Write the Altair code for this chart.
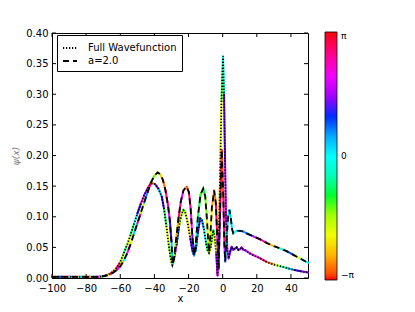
import altair as alt
import numpy as np
import pandas as pd

PI = np.pi

# ---- "Full Wavefunction" (dotted) : x, |psi|, phase (in units of pi)
full_x = [-100, -98, -96, -94, -92, -90, -88, -86, -84, -82, -80, -78, -76, -74, -72,
          -70, -68, -66, -64, -62, -60, -58, -56, -54, -52, -50, -48, -46, -44, -42.5, -41,
          -39.5, -37.5, -35.7, -34.3, -33, -31.5, -30.3, -29.5,
          -28.5, -27, -25.5, -24, -23, -22, -20.5, -19, -17.8, -16.8,
          -15.8, -14.5, -13.2, -12.2, -11, -9.8, -8.8, -8,
          -7, -6, -5.5, -4.8, -3.8, -3.0, -2.2, -1.4, -0.7, 0.2, 0.8, 1.4, 2.0, 2.8,
          3.5, 4.3, 5.3, 6.2, 7.2, 8.2, 9.2, 10.2, 11.1, 12.1, 13.5,
          16, 19, 22, 26, 30, 34, 38, 42, 46, 50]
full_y = [0.002, 0.002, 0.002, 0.002, 0.002, 0.002, 0.002, 0.002, 0.002, 0.002, 0.002, 0.002, 0.002, 0.002, 0.002,
          0.003, 0.005, 0.007, 0.011, 0.017, 0.026, 0.040, 0.054, 0.070, 0.088, 0.105, 0.121, 0.135, 0.146, 0.153, 0.155,
          0.153, 0.145, 0.133, 0.112, 0.085, 0.052, 0.029, 0.021,
          0.030, 0.055, 0.085, 0.105, 0.111, 0.108, 0.090, 0.065, 0.045, 0.037,
          0.045, 0.075, 0.097, 0.095, 0.080, 0.058, 0.045, 0.041,
          0.050, 0.070, 0.078, 0.070, 0.040, 0.004, 0.070, 0.190, 0.290, 0.362, 0.300, 0.190, 0.090, 0.045,
          0.032, 0.042, 0.051, 0.046, 0.048, 0.050, 0.046, 0.047, 0.050, 0.046, 0.045,
          0.040, 0.036, 0.032, 0.026, 0.022, 0.019, 0.016, 0.013, 0.011, 0.009]
full_phase = [-0.7, 0.4, -0.2, 0.8, -0.9, 0.3, -0.5, 0.6, -0.1, 0.9, -0.6, 0.2, -0.9, 0.5, -0.3,
              0.6, -0.4, 0.9, -0.8, 0.9, -0.5, -0.3, -0.55, -0.3, 0.0, 0.35, 0.7, 0.45, 0.75, 0.95, -0.9,
              0.4, 0.1, 0.35, -0.3, -0.6, -0.4, -0.6, -0.8,
              0.6, 0.3, -0.55, -0.4, -0.35, -0.55, -0.7, 0.4, 0.2, -0.2,
              0.3, 0.35, 0.3, 0.2, 0.0, -0.3, -0.5, -0.7,
              -0.4, -0.3, -0.35, -0.6, 0.5, 0.65, -0.75, -0.6, -0.35, 0.0, 0.4, 0.55, 0.7, 0.6,
              0.45, 0.35, 0.4, 0.45, 0.4, 0.4, 0.45, 0.5, 0.45, 0.5, 0.55,
              0.6, 0.7, 0.85, -0.9, -0.5, -0.2, 0.1, 0.35, 0.45, 0.5]

# ---- "a=2.0" (dashed)
a2_x = [-100, -98, -96, -94, -92, -90, -88, -86, -84, -82, -80, -78, -76, -74, -72,
        -70, -68, -66, -64, -62, -60, -58, -56, -54, -52, -50, -48, -46, -44, -42, -40,
        -38.1, -36.5, -35, -33.5, -32, -31, -30, -29.3,
        -28.5, -27.5, -26, -24.5, -23, -21.1, -19.8, -18.8, -17.8, -16.8,
        -15.8, -14.5, -13, -11.4, -10.2, -9.2, -8.5, -8,
        -7.3, -6.3, -5, -4, -3.2, -2.4, -1.5, -0.5,
        0.4, 1.0, 1.5, 2.3, 3.2, 4.0, 4.8, 5.5, 6.2, 7, 8.2,
        10, 12, 14, 18, 22, 26, 30, 34, 38, 42, 46, 50]
a2_y = [0.002, 0.002, 0.002, 0.002, 0.002, 0.002, 0.002, 0.002, 0.002, 0.002, 0.002, 0.002, 0.002, 0.002, 0.002,
        0.003, 0.004, 0.006, 0.009, 0.013, 0.019, 0.028, 0.040, 0.055, 0.072, 0.089, 0.106, 0.123, 0.140, 0.156, 0.167,
        0.1725, 0.169, 0.160, 0.143, 0.118, 0.095, 0.060, 0.022,
        0.032, 0.058, 0.095, 0.125, 0.143, 0.149, 0.140, 0.115, 0.070, 0.037,
        0.055, 0.100, 0.136, 0.146, 0.133, 0.095, 0.062, 0.042,
        0.065, 0.115, 0.143, 0.122, 0.070, 0.015, 0.110, 0.209,
        0.130, 0.055, 0.027, 0.065, 0.100, 0.111, 0.097, 0.080, 0.073, 0.075, 0.077,
        0.077, 0.076, 0.073, 0.068, 0.063, 0.057, 0.052, 0.048, 0.043, 0.037, 0.031, 0.025]
a2_phase = [0.9, -0.5, 0.3, -0.9, 0.6, -0.2, 0.8, -0.7, 0.1, -0.4, 0.5, -0.8, 0.2, 0.7, -0.3,
            0.4, -0.6, 0.9, -0.1, 0.6, -0.8, 0.0, 0.7, -0.6, 0.1, 0.8, -0.5, 0.2, 0.9, -0.35, -0.45,
            -0.6, -0.75, -0.9, 0.85, 0.6, 0.35, 0.1, -0.2,
            -0.5, -0.8, 0.85, 0.6, -0.8, -0.95, 0.85, 0.65, 0.4, 0.2,
            -0.1, -0.3, -0.35, -0.3, -0.4, -0.6, -0.75, -0.4,
            -0.7, -0.85, -0.9, 0.9, 0.7, 0.4, 0.9, -0.95,
            0.8, 0.5, 0.2, 0.1, 0.0, 0.05, 0.1, 0.0, -0.05, 0.0, 0.05,
            0.1, 0.2, 0.3, 0.6, 0.8, -0.8, -0.5, 0.0, 0.3, -0.6, 0.0, 0.5]

series_names = ["Full Wavefunction", "a=2.0"]
x_ticks = [-100, -80, -60, -40, -20, 0, 20, 40]
y_ticks = [0.0, 0.05, 0.10, 0.15, 0.20, 0.25, 0.30, 0.35, 0.40]
phase_ticks = [-PI, 0.0, PI]

W, H = 256, 245


def frame(name, xs, ys, ph):
    df = pd.DataFrame({"x": xs, "y": ys, "phase": np.array(ph) * PI})
    df["series"] = name
    df["order"] = np.arange(len(df))
    df["x2"] = df["x"].shift(-1)
    df["y2"] = df["y"].shift(-1)
    return df


lines = pd.concat([frame(series_names[0], full_x, full_y, full_phase),
                   frame(series_names[1], a2_x, a2_y, a2_phase)], ignore_index=True)
segs = lines.dropna()

xscale = alt.Scale(domain=[-100, 50], nice=False, zero=False)
yscale = alt.Scale(domain=[0, 0.4], nice=False, zero=False)

x_axis = alt.Axis(title="x", values=x_ticks, ticks=False, domain=False, grid=False,
                  labelOverlap=False, labelFlush=False, labelBound=False,
                  labelPadding=5, titlePadding=0, titleFontSize=10, titleFontWeight="normal")
y_axis = alt.Axis(title="ψ(x)", values=y_ticks, format=".2f", ticks=False, domain=False,
                  grid=False, labelOverlap=False, labelFlush=False, labelBound=False,
                  labelPadding=4, titleColor="#777777", titleFontSize=9,
                  titleFontStyle="italic", titleFontWeight="normal", titlePadding=5)

hsv_domain = [-PI, -2 * PI / 3, -PI / 3, 0, PI / 3, 2 * PI / 3, PI]
hsv_range = ["#ff0000", "#ffff00", "#00ff00", "#00ffff", "#0000ff", "#ff00ff", "#ff0000"]

colored = alt.Chart(segs).mark_rule(strokeWidth=2, strokeCap="round").encode(
    x=alt.X("x:Q", scale=xscale, axis=x_axis),
    y=alt.Y("y:Q", scale=yscale, axis=y_axis),
    x2="x2:Q",
    y2="y2:Q",
    color=alt.Color("phase:Q", scale=alt.Scale(domain=hsv_domain, range=hsv_range),
                    legend=alt.Legend(orient="none", legendX=273, legendY=-1, direction="vertical",
                                      gradientLength=248, gradientThickness=12,
                                      gradientStrokeColor="black", gradientStrokeWidth=0.8,
                                      values=phase_ticks, title=None, padding=0,
                                      labelExpr="datum.value > 3 ? 'π' : (datum.value < -3 ? '−π' : '0')",
                                      labelFontSize=9, labelOffset=4, labelColor="black")),
)

black = alt.Chart(lines).mark_line(color="black", strokeWidth=1.8).encode(
    x=alt.X("x:Q", scale=xscale, axis=x_axis),
    y=alt.Y("y:Q", scale=yscale, axis=y_axis),
    order="order:Q",
    strokeDash=alt.StrokeDash("series:N",
                              scale=alt.Scale(domain=series_names, range=[[1.2, 1.8], [6, 4]]),
                              legend=alt.Legend(orient="none", legendX=5, legendY=2, title=None,
                                                strokeColor="black", fillColor="white", padding=5,
                                                labelFontSize=10, symbolType="stroke", symbolSize=196,
                                                symbolStrokeWidth=1.8, symbolStrokeColor="black",
                                                rowPadding=0, labelOffset=10, labelColor="black")),
)

xt = pd.DataFrame({"x": x_ticks})
yt = pd.DataFrame({"y": y_ticks})
tick_x_bottom = alt.Chart(xt).mark_rule(color="black").encode(
    x=alt.X("x:Q", scale=xscale, axis=x_axis), y=alt.value(H), y2=alt.value(H - 4))
tick_x_top = alt.Chart(xt).mark_rule(color="black").encode(
    x=alt.X("x:Q", scale=xscale, axis=x_axis), y=alt.value(0), y2=alt.value(4))
tick_y_left = alt.Chart(yt).mark_rule(color="black").encode(
    y=alt.Y("y:Q", scale=yscale, axis=y_axis), x=alt.value(0), x2=alt.value(4))
tick_y_right = alt.Chart(yt).mark_rule(color="black").encode(
    y=alt.Y("y:Q", scale=yscale, axis=y_axis), x=alt.value(W), x2=alt.value(W - 4))

chart = alt.layer(colored, black, tick_x_bottom, tick_x_top, tick_y_left, tick_y_right).properties(
    width=W, height=H,
    autosize=alt.AutoSizeParams(type="none"),
    padding={"left": 44, "top": 25, "right": 99, "bottom": 26},
    background="white",
).configure_view(stroke="black", strokeWidth=1).configure_axis(
    labelFont="DejaVu Sans", titleFont="DejaVu Sans", labelFontSize=10, labelColor="black",
    titleColor="black",
).configure_legend(labelFont="DejaVu Sans")

chart.save("out.html", embed_options={"renderer": "svg", "actions": False})
